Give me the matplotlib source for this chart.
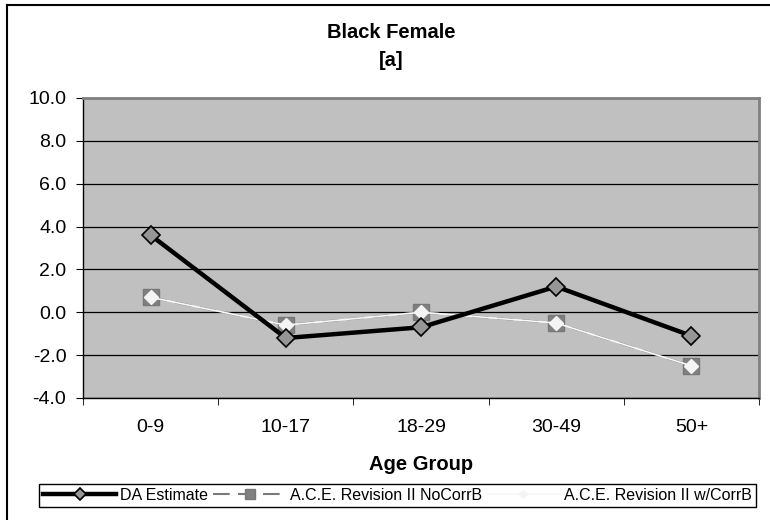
import numpy as np
import matplotlib
matplotlib.use("Agg")
import matplotlib.pyplot as plt
from matplotlib.lines import Line2D

plt.rcParams['font.family'] = ['Liberation Sans', 'DejaVu Sans']

age_groups = ['0-9', '10-17', '18-29', '30-49', '50+']
da_estimate = [3.6, -1.2, -0.7, 1.2, -1.1]
ace_nocorrb = [0.7, -0.6, 0.0, -0.5, -2.5]
ace_wcorrb = [0.7, -0.6, 0.0, -0.5, -2.5]
y_ticks = [-4.0, -2.0, 0.0, 2.0, 4.0, 6.0, 8.0, 10.0]

W, H = 770, 520
fig = plt.figure(figsize=(W / 100, H / 100), dpi=100)
ax = fig.add_axes([83 / W, (H - 398) / H, (759 - 83) / W, 300 / H])
ax.set_facecolor('#C0C0C0')

x = np.arange(len(age_groups))
ax.plot(x, da_estimate, color='black', lw=3.2, marker='D', ms=9.5,
        mfc='#969696', mec='black', mew=1.2, label='DA Estimate', zorder=5)
ax.plot(x, ace_nocorrb, color='#7A7A7A', lw=1.5, ls=(0, (8, 4)), marker='s', ms=12,
        mfc='#808080', mec='#777777', label='A.C.E. Revision II NoCorrB', zorder=3)
ax.plot(x, ace_wcorrb, color='#F8F8F8', lw=1.2, marker='D', ms=7,
        mfc='#F4F4F4', mec='#F4F4F4', label='A.C.E. Revision II w/CorrB', zorder=4)

ax.set_xlim(-0.5, len(age_groups) - 0.5)
ax.set_ylim(-4, 10)
ax.set_yticks(y_ticks)
ax.set_yticklabels([f'{v:.1f}' for v in y_ticks], fontsize=14)
ax.set_xticks(x)
ax.set_xticklabels(age_groups, fontsize=14)
ax.tick_params(axis='x', length=0, pad=15)
ax.set_xticks(np.arange(-0.5, len(age_groups)), minor=True)
ax.tick_params(axis='x', which='minor', length=5, direction='out', color='black')
ax.tick_params(axis='y', length=5, direction='out', color='black', pad=7)
ax.grid(axis='y', color='black', lw=0.9)
ax.set_axisbelow(True)

for side in ['top', 'right']:
    ax.spines[side].set_color('#808080')
    ax.spines[side].set_linewidth(2)
for side in ['left', 'bottom']:
    ax.spines[side].set_color('black')
    ax.spines[side].set_linewidth(1)

ax.set_xlabel('Age Group', fontsize=14.5, fontweight='bold', labelpad=14)

fig.text(391 / W, 1 - 33 / H, 'Black Female', ha='center', va='center',
         fontsize=14.5, fontweight='bold')
fig.text(391 / W, 1 - 61 / H, '[a]', ha='center', va='center',
         fontsize=14.5, fontweight='bold')

# outer chart border (cut on right and bottom)
fig.add_artist(Line2D([7 / W, 7 / W], [0, 1 - 5 / H], color='black', lw=1.5,
                      transform=fig.transFigure))
fig.add_artist(Line2D([7 / W, 1], [1 - 5 / H, 1 - 5 / H], color='black', lw=1.5,
                      transform=fig.transFigure))

leg = fig.legend(loc='lower left', ncol=3, mode='expand',
                 bbox_to_anchor=(31 / W, 5 / H, (764 - 31) / W, 28 / H),
                 fontsize=11.5, handlelength=4.6, handletextpad=0.25,
                 columnspacing=0.5, borderpad=0.25, markerscale=0.6,
                 fancybox=False, framealpha=1, edgecolor='black')
leg.get_frame().set_linewidth(1)

fig.savefig('out.png', dpi=100)
